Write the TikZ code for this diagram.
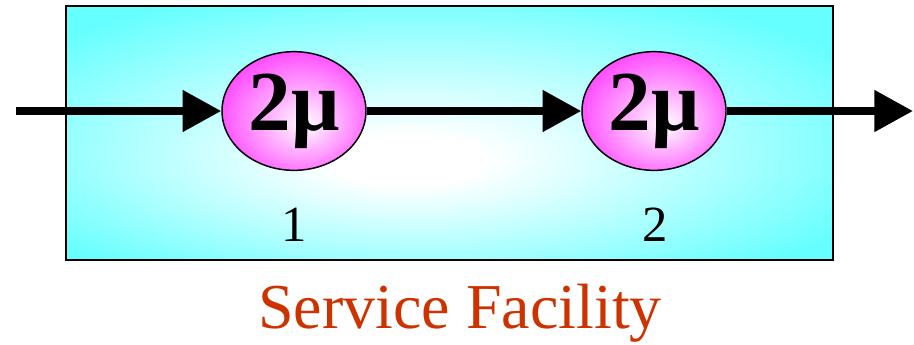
\documentclass[tikz,border=0pt]{standalone}
\usepackage{fontspec}
\setmainfont{Liberation Serif}
\usetikzlibrary{arrows.meta,shapes.geometric,positioning}
\definecolor{boxcyan}{HTML}{66FFFF}
\definecolor{servmag}{HTML}{FF33FF}
\definecolor{captred}{HTML}{CC3300}
\pgfdeclareradialshading{boxglow}{\pgfpoint{-3bp}{-6bp}}{color(0bp)=(white); color(5bp)=(white); color(32bp)=(boxcyan); color(50bp)=(boxcyan)}
\pgfdeclareradialshading{servglow}{\pgfpoint{4bp}{-6bp}}{color(0bp)=(white); color(32bp)=(servmag); color(50bp)=(servmag)}
\tikzset{
  server/.style={ellipse, draw, line width=1.1pt, shade, shading=servglow,
    minimum width=108pt, minimum height=89pt, inner sep=0pt,
    font=\fontsize{64}{64}\selectfont\bfseries},
  flow/.style={line width=6pt, -{Triangle[length=29pt,width=30pt]}},
  tag/.style={font=\fontsize{38}{38}\selectfont},
}
\begin{document}
\begin{tikzpicture}[x=0.75pt,y=-0.75pt]
  \useasboundingbox (0,0) rectangle (914,344);
  % facility box
  \shade[shading=boxglow, draw=black, line width=2pt] (66,6) rectangle (833,260);
  % servers
  \node[server] (s1) at (294,111) {2μ};
  \node[server] (s2) at (654,111) {2μ};
  \node[tag] (n1) at (294,225) {1};
  \node[tag] (n2) at (655,225) {2};
  % flow
  \coordinate (in) at (16,111);
  \coordinate (out) at (913,111);
  \draw[flow] (in) -- (s1);
  \draw[flow] (s1) -- (s2);
  \draw[flow] (s2) -- (out);
  \node[captred, font=\fontsize{48}{48}\selectfont] (caption) at (460,313) {Service Facility};
\end{tikzpicture}
\end{document}
